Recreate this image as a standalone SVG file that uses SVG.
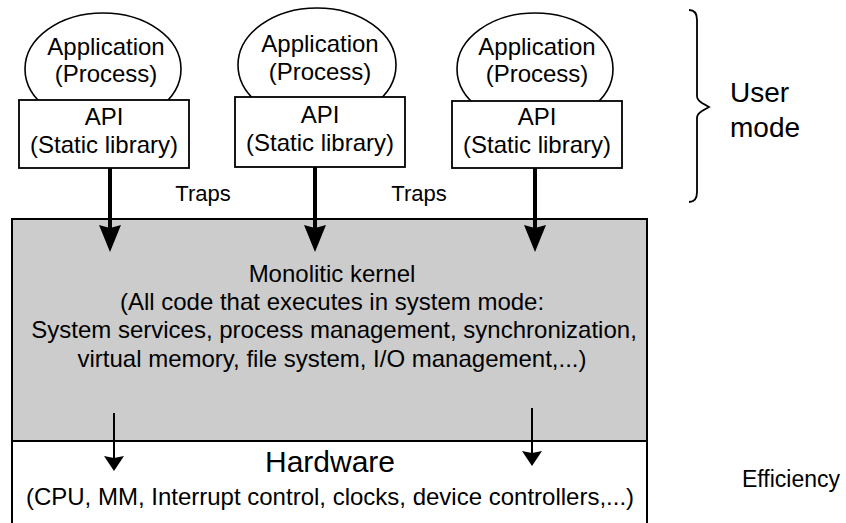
<svg xmlns="http://www.w3.org/2000/svg" width="846" height="523" viewBox="0 0 846 523">
  <style>
    text { font-family: "Liberation Sans", Arial, sans-serif; fill: #000; text-anchor: middle; }
    .t24 { font-size: 24px; }
    .left { text-anchor: start; }
    .proc { fill: #fff; stroke: #000; stroke-width: 1.6; }
    .api { fill: #fff; stroke: #000; stroke-width: 1.8; }
    .trap { stroke: #000; stroke-width: 4; fill: none; }
    .hw { stroke: #000; stroke-width: 2; fill: none; }
  </style>
  <defs>
    <marker id="headBig" markerUnits="userSpaceOnUse" viewBox="0 -12 28 24" refX="14" refY="0" markerWidth="28" markerHeight="24" orient="auto">
      <path d="M0,-11 L27,0 L0,11 L3,0 Z" fill="#000"/>
    </marker>
    <marker id="headSmall" markerUnits="userSpaceOnUse" viewBox="0 -11 16 22" refX="8" refY="0" markerWidth="16" markerHeight="22" orient="auto">
      <path d="M0,-10 L15,0 L0,10 L2,0 Z" fill="#000"/>
    </marker>
  </defs>
  <rect width="846" height="523" fill="#fff"/>

  <!-- kernel and hardware layers -->
  <g id="kernel">
    <rect x="12" y="219" width="635" height="222" fill="#cccccc" stroke="#000" stroke-width="2"/>
    <text class="t24" x="332" y="282">Monolitic kernel</text>
    <text class="t24" x="332" y="310">(All code that executes in system mode:</text>
    <text class="t24" x="334" y="338">System services, process management, synchronization,</text>
    <text class="t24" x="332" y="367">virtual memory, file system, I/O management,...)</text>
  </g>
  <g id="hardware">
    <path d="M12,441 V523 M647,441 V523 M12,441 H647" stroke="#000" stroke-width="2" fill="none"/>
    <text x="330" y="472" font-size="30">Hardware</text>
    <text class="t24" x="330" y="505">(CPU, MM, Interrupt control, clocks, device controllers,...)</text>
  </g>

  <!-- user processes -->
  <g id="app1">
    <ellipse class="proc" cx="103" cy="69" rx="78" ry="56"/>
    <rect class="api" x="19" y="100" width="170" height="68"/>
    <text class="t24" x="106" y="55">Application</text>
    <text class="t24" x="106" y="82">(Process)</text>
    <text class="t24" x="104" y="125">API</text>
    <text class="t24" x="104" y="153">(Static library)</text>
  </g>
  <g id="app2">
    <ellipse class="proc" cx="317" cy="65" rx="79" ry="57"/>
    <rect class="api" x="235" y="97" width="170" height="70"/>
    <text class="t24" x="320" y="52">Application</text>
    <text class="t24" x="320" y="80">(Process)</text>
    <text class="t24" x="320" y="123">API</text>
    <text class="t24" x="320" y="151">(Static library)</text>
  </g>
  <g id="app3">
    <ellipse class="proc" cx="535" cy="69" rx="78" ry="56"/>
    <rect class="api" x="452" y="101" width="170" height="67"/>
    <text class="t24" x="537" y="55">Application</text>
    <text class="t24" x="537" y="82">(Process)</text>
    <text class="t24" x="537" y="125">API</text>
    <text class="t24" x="537" y="153">(Static library)</text>
  </g>

  <!-- connectors -->
  <g id="connectors">
    <line class="trap" x1="110" y1="168" x2="110" y2="239" marker-end="url(#headBig)"/>
    <line class="trap" x1="315" y1="167" x2="315" y2="239" marker-end="url(#headBig)"/>
    <line class="trap" x1="535" y1="168" x2="535" y2="239" marker-end="url(#headBig)"/>
    <line class="hw" x1="114" y1="413" x2="114" y2="464" marker-end="url(#headSmall)"/>
    <line class="hw" x1="532" y1="408" x2="532" y2="459" marker-end="url(#headSmall)"/>
  </g>

  <!-- labels -->
  <g id="labels">
    <text x="203" y="201" font-size="22">Traps</text>
    <text x="419" y="201" font-size="22">Traps</text>
    <path d="M689,10 Q697,10 697,20 V96 Q697,100 702,103 L709,107 L702,111 Q697,114 697,118 V192 Q697,202 689,202" fill="none" stroke="#000" stroke-width="1.8"/>
    <text class="left" x="730" y="102" font-size="28">User</text>
    <text class="left" x="730" y="137" font-size="28">mode</text>
    <text class="left" x="742" y="487" font-size="23">Efficiency</text>
  </g>
</svg>
